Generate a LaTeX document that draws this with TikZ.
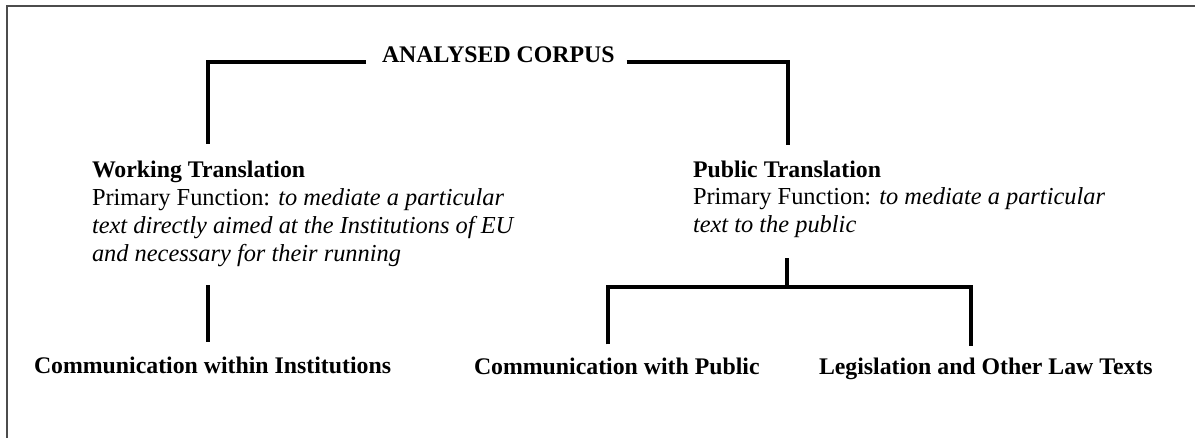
\documentclass[tikz,border=0pt]{standalone}
\usepackage{fontspec}
\setmainfont{Liberation Serif}
\usetikzlibrary{calc}
\begin{document}
\begin{tikzpicture}[x=0.5pt,y=-0.5pt,
  every node/.style={inner sep=0pt, outer sep=0pt, font=\fontsize{11.9}{14}\selectfont},
  heading/.style={anchor=base west, font=\fontsize{11.9}{14}\selectfont\bfseries},
  desc/.style={anchor=base west, align=left, font=\fontsize{12.2}{14}\selectfont},
  link/.style={line width=2pt},
  frame/.style={line width=1pt, draw=black!70}]
\useasboundingbox (0,0) rectangle (1195,438);

% outer frame (left and top edges)
\draw[frame] (7,438) -- (7,6) -- (1195,6);

% root
\node[heading] (corpus) at (382,63) {ANALYSED CORPUS};

% first level (descriptions are placed by the baseline of their last line)
\node[heading] (work) at (92,178) {Working Translation};
\node[desc] (workdesc) at (92,262) {Primary Function: \textit{to mediate a particular}\\
  \textit{text directly aimed at the Institutions of EU}\\
  \textit{and necessary for their running}};
\node[heading] (pub) at (693,178) {Public Translation};
\node[desc] (pubdesc) at (693,233) {Primary Function: \textit{to mediate a particular}\\
  \textit{text to the public}};

% second level
\node[heading] (inst) at (34,374) {Communication within Institutions};
\node[heading] (cpub) at (474,375) {Communication with Public};
\node[heading] (law) at (819,375) {Legislation and Other Law Texts};

% junction points
\coordinate (wtop) at (208,144);
\coordinate (ptop) at (788,145);
\coordinate (pj) at (787,287);
\coordinate (pl) at (608,287);
\coordinate (pr) at (971,287);

% root to first level
\draw[link] ($(corpus.base west)+(-16,-1)$) -| (wtop);
\draw[link] ($(corpus.base east)+(12,-1)$) -| (ptop);

% working translation to its branch
\draw[link] ($(workdesc.south -| wtop)+(0,18)$) -- ($(inst.north -| wtop)+(0,-15)$);

% public translation to its branches
\draw[link] ($(pubdesc.south -| pj)+(0,20)$) -- (pj);
\draw[link] ($(pl |- cpub.north)+(0,-14)$) -- (pl) -- (pr) -- ($(pr |- law.north)+(0,-12)$);
\end{tikzpicture}
\end{document}
